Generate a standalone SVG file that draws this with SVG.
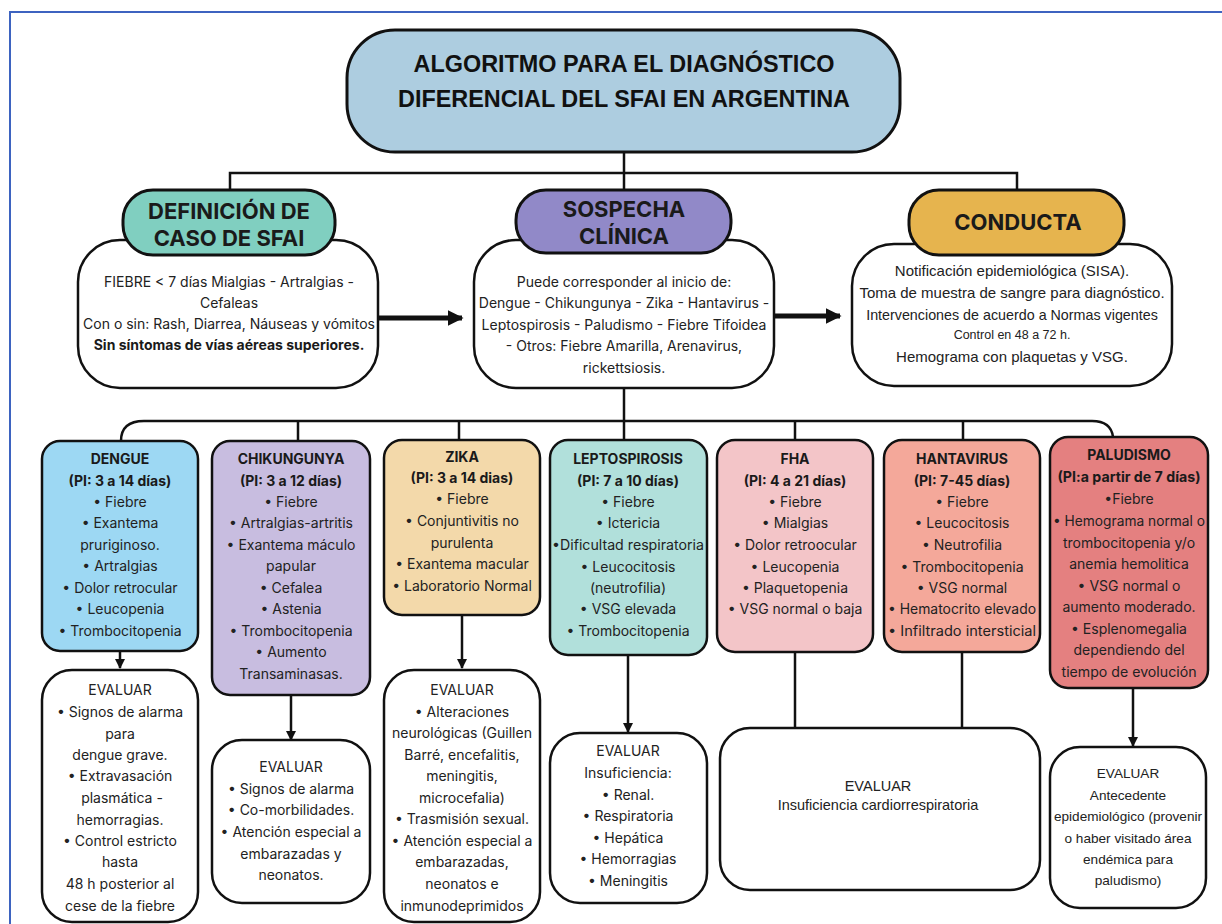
<svg xmlns="http://www.w3.org/2000/svg" width="1222" height="924" viewBox="0 0 1222 924">
<defs>
<style>
.box{stroke:#111;stroke-width:2.5}
.pill{stroke:#111;stroke-width:3}
.ln{fill:none;stroke:#111;stroke-width:2.5}
.thick{fill:none;stroke:#111;stroke-width:5}
text{text-anchor:middle;fill:#222}
.r{font-family:Inter,Roboto,"Liberation Sans",sans-serif;font-size:14px}
.rb{font-family:Inter,Roboto,"Liberation Sans",sans-serif;font-size:14px;font-weight:bold;fill:#1a1a1a}
.h{font-family:Inter,Roboto,"Liberation Sans",sans-serif;font-size:22px;font-weight:bold;fill:#1a1a1a}
.a{font-family:"Liberation Sans",Arial,sans-serif;font-size:13.6px}
.ac{font-family:"Liberation Sans",Arial,sans-serif;font-size:15px}
.ttl{font-family:"Liberation Sans",Arial,sans-serif;font-size:23px;font-weight:bold;fill:#111}
</style>
<marker id="ah" viewBox="0 0 10 10" refX="9" refY="5" markerWidth="10" markerHeight="10" markerUnits="userSpaceOnUse" orient="auto"><path d="M0,0 L10,5 L0,10 z" fill="#111"/></marker>
<marker id="ahb" viewBox="0 0 10 10" refX="9" refY="5" markerWidth="16" markerHeight="18" markerUnits="userSpaceOnUse" orient="auto"><path d="M0,0 L10,5 L0,10 z" fill="#111"/></marker>
</defs>
<rect width="1222" height="924" fill="#fff"/>
<path d="M10 924 V12 H1222" fill="none" stroke="#3d63c0" stroke-width="2"/>

<g id="connectors">
<path class="ln" d="M624 152 V190 M230 190 V173 H1017 V190"/>
<path class="thick" d="M378 318 H462" marker-end="url(#ahb)"/>
<path class="thick" d="M774 316 H840" marker-end="url(#ahb)"/>
<path class="ln" d="M624 388 V440"/>
<path class="ln" d="M121 441 Q121 421 144 421 H1092 Q1111 421 1113 437"/>
<path class="ln" d="M298 421 V441 M459 421 V440 M795 421 V440 M963 421 V440"/>
<path class="ln" d="M120 651 V668" marker-end="url(#ah)"/>
<path class="ln" d="M291 695 V740" marker-end="url(#ah)"/>
<path class="ln" d="M462 615 V668" marker-end="url(#ah)"/>
<path class="ln" d="M628 655 V732" marker-end="url(#ah)"/>
<path class="ln" d="M795 652 V745" marker-end="url(#ah)"/>
<path class="ln" d="M962 652 V745" marker-end="url(#ah)"/>
<path class="ln" d="M1133 688 V746" marker-end="url(#ah)"/>
</g>

<g id="title">
<rect class="pill" x="347" y="30" width="553" height="122" rx="48" fill="#adcde0"/>
<text class="ttl" x="624" y="72" textLength="421" lengthAdjust="spacingAndGlyphs">ALGORITMO PARA EL DIAGNÓSTICO</text>
<text class="ttl" x="624" y="107" textLength="452" lengthAdjust="spacingAndGlyphs">DIFERENCIAL DEL SFAI EN ARGENTINA</text>
</g>

<g id="definicion">
<rect class="box" x="78" y="240" width="300" height="148" rx="42" fill="#fff"/>
<rect class="pill" x="123" y="190" width="212" height="65" rx="30" fill="#80cfc0"/>
<text class="h" x="229" y="219">DEFINICIÓN DE</text>
<text class="h" x="229" y="246">CASO DE SFAI</text>
<text class="r" x="229" y="287">FIEBRE &lt; 7 días Mialgias - Artralgias -</text>
<text class="r" x="229" y="308">Cefaleas</text>
<text class="r" x="229" y="329">Con o sin: Rash, Diarrea, Náuseas y vómitos</text>
<text class="rb" x="229" y="350">Sin síntomas de vías aéreas superiores.</text>
</g>

<g id="sospecha">
<rect class="box" x="474" y="240" width="300" height="148" rx="42" fill="#fff"/>
<rect class="pill" x="516" y="190" width="215" height="63" rx="30" fill="#9189c8"/>
<text class="h" x="624" y="217">SOSPECHA</text>
<text class="h" x="624" y="244">CLÍNICA</text>
<text class="r" x="624" y="287">Puede corresponder al inicio de:</text>
<text class="r" x="624" y="308">Dengue - Chikungunya - Zika - Hantavirus -</text>
<text class="r" x="624" y="330">Leptospirosis - Paludismo - Fiebre Tifoidea</text>
<text class="r" x="624" y="351">- Otros: Fiebre Amarilla, Arenavirus,</text>
<text class="r" x="624" y="373">rickettsiosis.</text>
</g>

<g id="conducta">
<rect class="box" x="852" y="244" width="320" height="142" rx="42" fill="#fff"/>
<rect class="pill" x="909" y="190" width="215" height="65" rx="30" fill="#e6b44e"/>
<text class="h" x="1018" y="230">CONDUCTA</text>
<text class="ac" x="1012" y="276">Notificación epidemiológica (SISA).</text>
<text class="ac" x="1012" y="298">Toma de muestra de sangre para diagnóstico.</text>
<text class="ac" x="1012" y="320" style="font-size:14.3px">Intervenciones de acuerdo a Normas vigentes</text>
<text class="ac" x="1012" y="339" style="font-size:12.5px">Control en 48 a 72 h.</text>
<text class="ac" x="1012" y="362">Hemograma con plaquetas y VSG.</text>
</g>

<g id="dengue">
<rect class="box" x="42" y="441" width="156" height="210" rx="18" fill="#9dd8f3"/>
<text class="rb" x="120" y="464">DENGUE</text>
<text class="rb" x="120" y="486">(PI: 3 a 14 días)</text>
<text class="r" x="120" y="507">• Fiebre</text>
<text class="r" x="120" y="528">• Exantema</text>
<text class="r" x="120" y="550">pruriginoso.</text>
<text class="r" x="120" y="571">• Artralgias</text>
<text class="r" x="120" y="593">• Dolor retrocular</text>
<text class="r" x="120" y="614">• Leucopenia</text>
<text class="r" x="120" y="636">• Trombocitopenia</text>
</g>

<g id="chikungunya">
<rect class="box" x="212" y="441" width="158" height="254" rx="18" fill="#c8bde0"/>
<text class="rb" x="291" y="464">CHIKUNGUNYA</text>
<text class="rb" x="291" y="486">(PI: 3 a 12 días)</text>
<text class="r" x="291" y="507">• Fiebre</text>
<text class="r" x="291" y="528">• Artralgias-artritis</text>
<text class="r" x="291" y="550">• Exantema máculo</text>
<text class="r" x="291" y="571">papular</text>
<text class="r" x="291" y="593">• Cefalea</text>
<text class="r" x="291" y="614">• Astenia</text>
<text class="r" x="291" y="636">• Trombocitopenia</text>
<text class="r" x="291" y="657">• Aumento</text>
<text class="r" x="291" y="679">Transaminasas.</text>
</g>

<g id="zika">
<rect class="box" x="384" y="440" width="156" height="175" rx="18" fill="#f3d9aa"/>
<text class="rb" x="462" y="462">ZIKA</text>
<text class="rb" x="462" y="483">(PI: 3 a 14 dias)</text>
<text class="r" x="462" y="504">• Fiebre</text>
<text class="r" x="462" y="526">• Conjuntivitis no</text>
<text class="r" x="462" y="548">purulenta</text>
<text class="r" x="462" y="569">• Exantema macular</text>
<text class="r" x="462" y="591">• Laboratorio Normal</text>
</g>

<g id="leptospirosis">
<rect class="box" x="550" y="440" width="157" height="215" rx="18" fill="#b1e0db"/>
<text class="rb" x="628" y="464">LEPTOSPIROSIS</text>
<text class="rb" x="628" y="486">(PI: 7 a 10 días)</text>
<text class="r" x="628" y="507">• Fiebre</text>
<text class="r" x="628" y="528">• Ictericia</text>
<text class="r" x="628" y="550" textLength="152" lengthAdjust="spacingAndGlyphs">•Dificultad respiratoria</text>
<text class="r" x="628" y="572">• Leucocitosis</text>
<text class="r" x="628" y="593">(neutrofilia)</text>
<text class="r" x="628" y="614">• VSG elevada</text>
<text class="r" x="628" y="636">• Trombocitopenia</text>
</g>

<g id="fha">
<rect class="box" x="717" y="440" width="156" height="212" rx="18" fill="#f3c5c8"/>
<text class="rb" x="795" y="464">FHA</text>
<text class="rb" x="795" y="486">(PI: 4 a 21 días)</text>
<text class="r" x="795" y="507">• Fiebre</text>
<text class="r" x="795" y="528">• Mialgias</text>
<text class="r" x="795" y="550">• Dolor retroocular</text>
<text class="r" x="795" y="572">• Leucopenia</text>
<text class="r" x="795" y="593">• Plaquetopenia</text>
<text class="r" x="795" y="614">• VSG normal o baja</text>
</g>

<g id="hantavirus">
<rect class="box" x="884" y="440" width="156" height="212" rx="18" fill="#f4a89a"/>
<text class="rb" x="962" y="464">HANTAVIRUS</text>
<text class="rb" x="962" y="486">(PI: 7-45 días)</text>
<text class="r" x="962" y="507">• Fiebre</text>
<text class="r" x="962" y="528">• Leucocitosis</text>
<text class="r" x="962" y="550">• Neutrofilia</text>
<text class="r" x="962" y="572">• Trombocitopenia</text>
<text class="r" x="962" y="593">• VSG normal</text>
<text class="r" x="962" y="614" textLength="148" lengthAdjust="spacingAndGlyphs">• Hematocrito elevado</text>
<text class="r" x="962" y="636" textLength="148" lengthAdjust="spacingAndGlyphs">• Infiltrado intersticial</text>
</g>

<g id="paludismo">
<rect class="box" x="1050" y="437" width="158" height="251" rx="18" fill="#e48080"/>
<text class="rb" x="1129" y="460">PALUDISMO</text>
<text class="rb" x="1129" y="482" textLength="143" lengthAdjust="spacingAndGlyphs">(PI:a partir de 7 días)</text>
<text class="r" x="1129" y="504">•Fiebre</text>
<text class="r" x="1129" y="526" textLength="152" lengthAdjust="spacingAndGlyphs">• Hemograma normal o</text>
<text class="r" x="1129" y="548">trombocitopenia y/o</text>
<text class="r" x="1129" y="569">anemia hemolitica</text>
<text class="r" x="1129" y="591">• VSG normal o</text>
<text class="r" x="1129" y="612">aumento moderado.</text>
<text class="r" x="1129" y="634">• Esplenomegalia</text>
<text class="r" x="1129" y="655">dependiendo del</text>
<text class="r" x="1129" y="677" textLength="135" lengthAdjust="spacingAndGlyphs">tiempo de evolución</text>
</g>

<g id="evaluar-dengue">
<rect class="box" x="42" y="670" width="156" height="252" rx="30" fill="#fff"/>
<text class="r" x="120" y="695">EVALUAR</text>
<text class="r" x="120" y="717">• Signos de alarma</text>
<text class="r" x="120" y="739">para</text>
<text class="r" x="120" y="760">dengue grave.</text>
<text class="r" x="120" y="781">• Extravasación</text>
<text class="r" x="122" y="803">plasmática -</text>
<text class="r" x="120" y="825">hemorragias.</text>
<text class="r" x="120" y="846">• Control estricto</text>
<text class="r" x="120" y="867">hasta</text>
<text class="r" x="120" y="889">48 h posterior al</text>
<text class="r" x="120" y="911">cese de la fiebre</text>
</g>

<g id="evaluar-chikungunya">
<rect class="box" x="212" y="740" width="158" height="163" rx="30" fill="#fff"/>
<text class="r" x="291" y="772">EVALUAR</text>
<text class="r" x="291" y="794">• Signos de alarma</text>
<text class="r" x="291" y="815">• Co-morbilidades.</text>
<text class="r" x="291" y="837">• Atención especial a</text>
<text class="r" x="291" y="859">embarazadas y</text>
<text class="r" x="291" y="880">neonatos.</text>
</g>

<g id="evaluar-zika">
<rect class="box" x="384" y="670" width="156" height="252" rx="30" fill="#fff"/>
<text class="r" x="462" y="695">EVALUAR</text>
<text class="r" x="462" y="717">• Alteraciones</text>
<text class="r" x="462" y="738" textLength="140" lengthAdjust="spacingAndGlyphs">neurológicas (Guillen</text>
<text class="r" x="462" y="760">Barré, encefalitis,</text>
<text class="r" x="462" y="781">meningitis,</text>
<text class="r" x="462" y="803">microcefalia)</text>
<text class="r" x="462" y="824">• Trasmisión sexual.</text>
<text class="r" x="462" y="846">• Atención especial a</text>
<text class="r" x="462" y="867">embarazadas,</text>
<text class="r" x="462" y="889">neonatos e</text>
<text class="r" x="462" y="911">inmunodeprimidos</text>
</g>

<g id="evaluar-leptospirosis">
<rect class="box" x="550" y="733" width="157" height="170" rx="30" fill="#fff"/>
<text class="r" x="628" y="756">EVALUAR</text>
<text class="r" x="628" y="778">Insuficiencia:</text>
<text class="r" x="628" y="800">• Renal.</text>
<text class="r" x="628" y="821">•  Respiratoria</text>
<text class="r" x="628" y="843">• Hepática</text>
<text class="r" x="628" y="864">• Hemorragias</text>
<text class="r" x="628" y="886">• Meningitis</text>
</g>

<g id="evaluar-fha-hantavirus">
<rect class="box" x="720" y="728" width="320" height="162" rx="30" fill="#fff"/>
<text class="a" x="878" y="791" style="font-size:14.5px">EVALUAR</text>
<text class="a" x="878" y="810" style="font-size:14.5px">Insuficiencia cardiorrespiratoria</text>
</g>

<g id="evaluar-paludismo">
<rect class="box" x="1050" y="747" width="156" height="161" rx="30" fill="#fff"/>
<text class="a" x="1128" y="778">EVALUAR</text>
<text class="a" x="1128" y="800">Antecedente</text>
<text class="a" x="1128" y="821">epidemiológico (provenir</text>
<text class="a" x="1128" y="843">o haber visitado área</text>
<text class="a" x="1128" y="864">endémica para</text>
<text class="a" x="1128" y="885">paludismo)</text>
</g>
</svg>
